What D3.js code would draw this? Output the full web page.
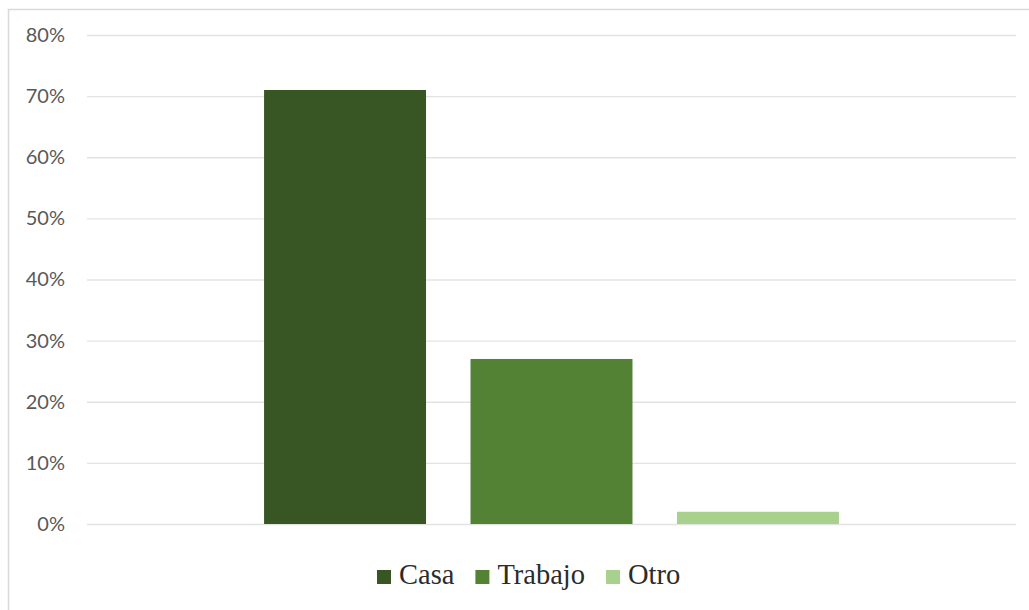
<!DOCTYPE html>
<html>
<head>
<meta charset="utf-8">
<script src="https://cdn.jsdelivr.net/npm/d3@7"></script>
<style>
  body { margin: 0; background: #fff; }
  svg { display: block; }
</style>
</head>
<body>
<div id="chart"></div>
<script>
// data
const series = ["Casa", "Trabajo", "Otro"];
const values = [0.71, 0.27, 0.02];
const colors = ["#375623", "#548235", "#a9d18e"];
const tickValues = [0, 0.1, 0.2, 0.3, 0.4, 0.5, 0.6, 0.7, 0.8];

const W = 1029, H = 610;
const plot = { left: 87, right: 1016, top: 35, bottom: 524 };

const svg = d3.select("#chart").append("svg")
    .attr("width", W)
    .attr("height", H);

// chart frame
svg.append("rect")
    .attr("x", 8.5).attr("y", 9.5)
    .attr("width", W).attr("height", H)
    .attr("fill", "#fff")
    .attr("stroke", "#d9d9d9")
    .attr("stroke-width", 1.5);

const y = d3.scaleLinear()
    .domain([0, 0.8])
    .range([plot.bottom, plot.top]);

// one group, three series side by side
const x0 = d3.scaleBand()
    .domain(["all"])
    .range([plot.left, plot.right])
    .paddingInner(0)
    .paddingOuter(0.308);

const x1 = d3.scaleBand()
    .domain(series)
    .range([0, x0.bandwidth()])
    .paddingInner(0.2155)
    .paddingOuter(0);

// Y axis + gridlines
const yAxis = svg.append("g")
    .attr("transform", `translate(${plot.left},0)`)
    .call(d3.axisLeft(y)
        .tickValues(tickValues)
        .tickFormat(d3.format(".0%"))
        .tickSize(-(plot.right - plot.left))
        .tickPadding(22));

yAxis.select(".domain").remove();
yAxis.selectAll(".tick line")
    .attr("stroke", "#e3e3e3")
    .attr("stroke-width", 1.3);
yAxis.selectAll(".tick text")
    .attr("fill", "#595959")
    .style("font-family", "Lato, 'Liberation Sans', sans-serif")
    .style("font-size", "20px");

// bars
svg.append("g")
    .selectAll("rect")
    .data(series)
    .enter()
    .append("rect")
    .attr("x", (d) => x0("all") + x1(d))
    .attr("width", x1.bandwidth())
    .attr("y", (d, i) => y(values[i]))
    .attr("height", (d, i) => y(0) - y(values[i]))
    .attr("fill", (d, i) => colors[i]);

// legend
const legend = svg.append("g");
let lx = 377;
const ly = 584;
series.forEach((name, i) => {
    legend.append("rect")
        .attr("x", lx)
        .attr("y", ly - 14)
        .attr("width", 14)
        .attr("height", 14)
        .attr("fill", colors[i]);
    const t = legend.append("text")
        .attr("x", lx + 22)
        .attr("y", ly)
        .attr("fill", "#2b2b2b")
        .style("font-family", "'Liberation Serif', 'Times New Roman', serif")
        .style("font-size", "28.5px")
        .text(name);
    lx += 22 + t.node().getComputedTextLength() + 21;
});
</script>
</body>
</html>
